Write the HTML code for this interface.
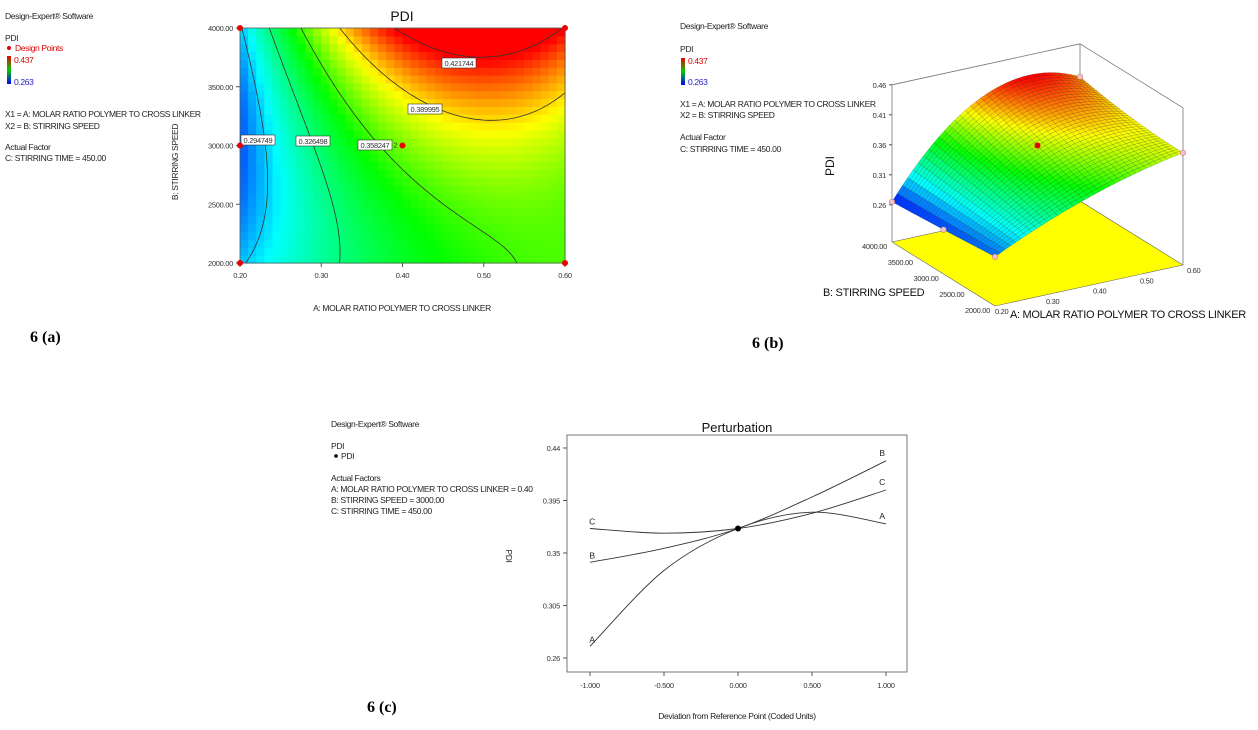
<!DOCTYPE html>
<html><head><meta charset="utf-8">
<style>
html,body{margin:0;padding:0;background:#fff;}
svg{display:block;font-family:"Liberation Sans",Arial,sans-serif;}
.s{font-size:8.5px;fill:#222;letter-spacing:-0.35px;}
.t{font-size:7.5px;fill:#333;letter-spacing:-0.3px;}
.cap{font-family:"Liberation Serif",serif;font-weight:bold;font-size:16px;fill:#000;}
</style></head>
<body>
<svg id="root" width="1258" height="730" viewBox="0 0 1258 730">
<g>
<text class="s" x="5" y="19">Design-Expert® Software</text>
<text class="s" x="5" y="41">PDI</text>
<circle cx="9" cy="48" r="2" fill="#d00"/>
<text class="s" x="15" y="51" style="fill:#d00">Design Points</text>
<defs><linearGradient id="cb" x1="0" y1="0" x2="0" y2="1"><stop offset="0" stop-color="#e00"/><stop offset="0.5" stop-color="#0c0"/><stop offset="1" stop-color="#00f"/></linearGradient></defs>
<rect x="7" y="56" width="4" height="28" fill="url(#cb)"/>
<text class="s" x="14" y="63" style="fill:#d00">0.437</text>
<text class="s" x="14" y="85" style="fill:#22c">0.263</text>
<text class="s" x="5" y="117">X1 = A: MOLAR RATIO POLYMER TO CROSS LINKER</text>
<text class="s" x="5" y="129">X2 = B: STIRRING SPEED</text>
<text class="s" x="5" y="150">Actual Factor</text>
<text class="s" x="5" y="161">C: STIRRING TIME = 450.00</text>
</g>
<text x="402" y="21" text-anchor="middle" font-size="14" fill="#111">PDI</text>
<g id="heat"></g>
<text class="s" x="402" y="311" text-anchor="middle">A: MOLAR RATIO POLYMER TO CROSS LINKER</text>
<text class="s" transform="translate(178,162) rotate(-90)" text-anchor="middle">B: STIRRING SPEED</text>
<text class="cap" x="30" y="342">6 (a)</text>

<g>
<text class="s" x="680" y="29">Design-Expert® Software</text>
<text class="s" x="680" y="52">PDI</text>
<rect x="681" y="58" width="4" height="27" fill="url(#cb)"/>
<text class="s" x="688" y="64" style="fill:#d00">0.437</text>
<text class="s" x="688" y="85" style="fill:#22c">0.263</text>
<text class="s" x="680" y="107">X1 = A: MOLAR RATIO POLYMER TO CROSS LINKER</text>
<text class="s" x="680" y="118">X2 = B: STIRRING SPEED</text>
<text class="s" x="680" y="140">Actual Factor</text>
<text class="s" x="680" y="152">C: STIRRING TIME = 450.00</text>
</g>
<g id="surf"></g>
<text transform="translate(834,166) rotate(-90)" text-anchor="middle" font-size="12" fill="#111">PDI</text>
<text x="823" y="296" font-size="11" letter-spacing="-0.3" fill="#111">B: STIRRING SPEED</text>
<text x="1010" y="318" font-size="11" letter-spacing="-0.3" fill="#111">A: MOLAR RATIO POLYMER TO CROSS LINKER</text>
<text class="cap" x="752" y="348">6 (b)</text>

<g>
<text class="s" x="331" y="427">Design-Expert® Software</text>
<text class="s" x="331" y="449">PDI</text>
<circle cx="336" cy="456" r="1.8" fill="#000"/>
<text class="s" x="341" y="459">PDI</text>
<text class="s" x="331" y="481">Actual Factors</text>
<text class="s" x="331" y="492">A: MOLAR RATIO POLYMER TO CROSS LINKER = 0.40</text>
<text class="s" x="331" y="503">B: STIRRING SPEED = 3000.00</text>
<text class="s" x="331" y="514">C: STIRRING TIME = 450.00</text>
</g>
<text x="737" y="432" text-anchor="middle" font-size="13" fill="#111">Perturbation</text>
<g id="pert"></g>
<text class="s" x="737" y="719" text-anchor="middle">Deviation from Reference Point (Coded Units)</text>
<text class="s" transform="translate(506,556) rotate(90)" text-anchor="middle">PDI</text>
<text class="cap" x="367" y="712">6 (c)</text>
</svg>
<script>
// ---------- data ----------
const modelCenter = [0.366];
const coefA = [0.049, -0.042];      // linear, quadratic (coded)
const coefB = [0.0415, 0.0175];
const coefAB = [0.015];
const coefAAB = [-0.0265];
const contourLevels = [0.294749, 0.326498, 0.358247, 0.389995, 0.421744];
const aTicks = ["0.20","0.30","0.40","0.50","0.60"];
const bTicks = ["2000.00","2500.00","3000.00","3500.00","4000.00"];
// 3D surface grid: rows B = 2000, 3000, 4000; columns A = 0.2, 0.4, 0.6
const surfRowB2000 = [0.280, 0.345, 0.385];
const surfRowB3000 = [0.272, 0.378, 0.390];
const surfRowB4000 = [0.265, 0.410, 0.405];
const zTicks = ["0.26","0.31","0.36","0.41","0.46"];
const zTickVals = [0.26,0.31,0.36,0.41,0.46];
// perturbation: values at deviation -1, -0.5, 0, 0.5, 1
const pertDev = [-1,-0.5,0,0.5,1];
const pertA = [0.270, 0.335, 0.371, 0.385, 0.375];
const pertB = [0.342, 0.354, 0.371, 0.398, 0.429];
const pertC = [0.371, 0.367, 0.371, 0.384, 0.404];
const pertYTicks = [0.26,0.305,0.35,0.395,0.44];
const pertYLabels = ["0.26","0.305","0.35","0.395","0.44"];
const pertXLabels = ["-1.000","-0.500","0.000","0.500","1.000"];

const NS="http://www.w3.org/2000/svg";
function mk(tag,attrs,parent){const e=document.createElementNS(NS,tag);for(const k in attrs)e.setAttribute(k,attrs[k]);parent.appendChild(e);return e;}
const rampT=[0,0.25,0.55,0.78,1], rampH=[240,180,120,60,0];
function ramp(v,hi){hi=hi||0.437;let t=(v-0.263)/(hi-0.263);t=Math.max(0,Math.min(1,t));
 let k=0;while(k<3&&t>rampT[k+1])k++;
 const h=rampH[k]+(rampH[k+1]-rampH[k])*(t-rampT[k])/(rampT[k+1]-rampT[k]);
 return `hsl(${h.toFixed(1)},100%,50%)`;}
function model(x,y){return modelCenter[0]+coefA[0]*x+coefA[1]*x*x+coefB[0]*y+coefB[1]*y*y+coefAB[0]*x*y+coefAAB[0]*x*x*y;}

// ---------- panel a ----------
(function(){
 const g=document.getElementById('heat');
 const L=240,R=565,T=28,B=263;
 const sx=x=>L+(x+1)/2*(R-L), sy=y=>B-(y+1)/2*(B-T);
 const NX=40,NY=30;
 for(let i=0;i<NX;i++)for(let j=0;j<NY;j++){
  const x=-1+(i+0.5)*2/NX,y=-1+(j+0.5)*2/NY;
  const r=mk('rect',{x:sx(-1+i*2/NX).toFixed(2),y:sy(-1+(j+1)*2/NY).toFixed(2),width:((R-L)/NX+0.6).toFixed(2),height:((B-T)/NY+0.6).toFixed(2),fill:ramp(model(x,y),0.42)},g);
  
  
 }
 const MX=80,MY=60;
 contourLevels.forEach(lv=>{
  let d='';
  for(let i=0;i<MX;i++)for(let j=0;j<MY;j++){
   const x0=-1+i*2/MX,x1=x0+2/MX,y0=-1+j*2/MY,y1=y0+2/MY;
   const c=[[x0,y0],[x1,y0],[x1,y1],[x0,y1]].map(p=>[p[0],p[1],model(p[0],p[1])-lv]);
   const pts=[];
   for(let k=0;k<4;k++){const a=c[k],b=c[(k+1)%4];if((a[2]<0)!==(b[2]<0)){const t=a[2]/(a[2]-b[2]);pts.push([a[0]+t*(b[0]-a[0]),a[1]+t*(b[1]-a[1])]);}}
   for(let k=0;k+1<pts.length;k+=2)d+=`M${sx(pts[k][0]).toFixed(1)},${sy(pts[k][1]).toFixed(1)}L${sx(pts[k+1][0]).toFixed(1)},${sy(pts[k+1][1]).toFixed(1)}`;
  }
  const p=mk('path',{d:d,stroke:'#333',"stroke-width":0.8,fill:'none'},g);
  
  
 });
 const labPos=[[258,141],[313,142],[375,146],[425,110],[459,64]];
 contourLevels.forEach((lv,k)=>{
  const t=String(lv);
  const r=mk('rect',{x:labPos[k][0]-17,y:labPos[k][1]-6,width:34,height:10,fill:'#fff',stroke:'#333',"stroke-width":0.6},g);
  
  
  const tx=mk('text',{x:labPos[k][0],y:labPos[k][1]+2,"text-anchor":'middle',class:'t'},g);tx.textContent=t;
  
  
 });
 const fr=mk('rect',{x:L,y:T,width:R-L,height:B-T,fill:'none',stroke:'#555',"stroke-width":0.8},g);
 
 
 aTicks.forEach((s,k)=>{const x=L+k*(R-L)/4;
  mk('line',{x1:x,y1:B,x2:x,y2:B+4,stroke:'#555'},g);
  const t=mk('text',{x:x,y:B+15,"text-anchor":'middle',class:'t'},g);t.textContent=s;
  
  });
 bTicks.forEach((s,k)=>{const y=B-k*(B-T)/4;
  mk('line',{x1:L-4,y1:y,x2:L,y2:y,stroke:'#555'},g);
  const t=mk('text',{x:L-7,y:y+3,"text-anchor":'end',class:'t'},g);t.textContent=s;
  
  });
 [[-1,1],[1,1],[-1,-1],[1,-1],[-1,0],[0,0]].forEach(p=>{
  const c=mk('circle',{cx:sx(p[0]),cy:sy(p[1]),r:3,fill:'#e00'},g);
  
  });
 const t2=mk('text',{x:sx(0)-9,y:sy(0)+2,class:'t',fill:'#070'},g);t2.textContent='2';
 
 
})();

// ---------- panel b ----------
(function(){
 const g=document.getElementById('surf');
 const P=(a,b,z)=>[995+a*188-b*103, 306-a*41-b*64-(z-0.198)*600];
 const rows=[surfRowB2000,surfRowB3000,surfRowB4000];
 const lag=(t,v)=>{const l0=2*(t-0.5)*(t-1),l1=-4*t*(t-1),l2=2*t*(t-0.5);return v[0]*l0+v[1]*l1+v[2]*l2;};
 const Z=(a,b)=>lag(b,[lag(a,rows[0]),lag(a,rows[1]),lag(a,rows[2])]);
 const pstr=pts=>pts.map(p=>p[0].toFixed(1)+','+p[1].toFixed(1)).join(' ');
 const zTop=0.46,zFl=0.198;
 const fl=mk('polygon',{points:pstr([P(0,0,zFl),P(1,0,zFl),P(1,1,zFl),P(0,1,zFl)]),fill:'#ffff00',stroke:'#666',"stroke-width":0.6},g);
 
 
 const fr=[[P(0,1,zFl),P(0,1,zTop)],[P(1,1,zFl),P(1,1,zTop)],[P(1,0,zFl),P(1,0,zTop)],[P(0,1,zTop),P(1,1,zTop)],[P(1,1,zTop),P(1,0,zTop)]];
 fr.forEach(s=>{const l=mk('line',{x1:s[0][0],y1:s[0][1],x2:s[1][0],y2:s[1][1],stroke:'#777',"stroke-width":0.8},g);
  
  });
 zTicks.forEach((s,k)=>{const p=P(0,1,zTickVals[k]);
  mk('line',{x1:p[0]-3,y1:p[1],x2:p[0],y2:p[1],stroke:'#555'},g);
  const t=mk('text',{x:p[0]-6,y:p[1]+3,"text-anchor":'end',class:'t'},g);t.textContent=s;
  
  });
 bTicks.forEach((s,k)=>{const p=P(0,k/4,zFl);
  const t=mk('text',{x:p[0]-5,y:p[1]+7,"text-anchor":'end',class:'t'},g);t.textContent=s;
  
  });
 aTicks.forEach((s,k)=>{const p=P(k/4,0,zFl);
  const t=mk('text',{x:p[0]+(k?4:0),y:p[1]+8,class:'t'},g);t.textContent=s;
  
  });
 const N=36,quads=[];
 for(let i=0;i<N;i++)for(let j=0;j<N;j++)quads.push([i,j]);
 quads.sort((q,r)=>(r[0]+r[1])-(q[0]+q[1]));
 quads.forEach(([i,j])=>{
  const a0=i/N,a1=(i+1)/N,b0=j/N,b1=(j+1)/N;
  const pts=[P(a0,b0,Z(a0,b0)),P(a1,b0,Z(a1,b0)),P(a1,b1,Z(a1,b1)),P(a0,b1,Z(a0,b1))];
  const q=mk('polygon',{points:pstr(pts),fill:ramp(Z((a0+a1)/2,(b0+b1)/2),0.425),stroke:'rgba(0,0,0,0.35)',"stroke-width":0.4},g);
  
  
 });
 [[0,1],[0,0],[1,0],[1,1],[0,0.5]].forEach(p=>{const c=P(p[0],p[1],Z(p[0],p[1]));
  const e=mk('circle',{cx:c[0],cy:c[1],r:2.8,fill:'#f6c0c0',stroke:'#a66',"stroke-width":0.5},g);
  
  });
 const cc=P(0.5,0.5,Z(0.5,0.5));
 const ce=mk('circle',{cx:cc[0],cy:cc[1],r:3,fill:'#e00'},g);
 
 
})();

// ---------- panel c ----------
(function(){
 const g=document.getElementById('pert');
 const X=d=>738+d*148, Y=v=>658-(v-0.26)*1166.7;
 const fr=mk('rect',{x:567,y:435,width:340,height:237,fill:'none',stroke:'#555',"stroke-width":0.8},g);
 
 
 pertYTicks.forEach((v,k)=>{const y=Y(v);
  mk('line',{x1:563,y1:y,x2:567,y2:y,stroke:'#555'},g);
  const t=mk('text',{x:560,y:y+3,"text-anchor":'end',class:'t'},g);t.textContent=pertYLabels[k];
  
  });
 pertDev.forEach((d,k)=>{const x=X(d);
  mk('line',{x1:x,y1:672,x2:x,y2:676,stroke:'#555'},g);
  const t=mk('text',{x:x,y:688,"text-anchor":'middle',class:'t'},g);t.textContent=pertXLabels[k];
  
  });
 function curve(vals){
  const p=pertDev.map((d,k)=>[X(d),Y(vals[k])]);
  let d=`M${p[0][0]},${p[0][1].toFixed(1)}`;
  for(let k=0;k<p.length-1;k++){
   const p0=p[Math.max(0,k-1)],p1=p[k],p2=p[k+1],p3=p[Math.min(p.length-1,k+2)];
   const c1=[p1[0]+(p2[0]-p0[0])/6,p1[1]+(p2[1]-p0[1])/6],c2=[p2[0]-(p3[0]-p1[0])/6,p2[1]-(p3[1]-p1[1])/6];
   d+=`C${c1[0].toFixed(1)},${c1[1].toFixed(1)} ${c2[0].toFixed(1)},${c2[1].toFixed(1)} ${p2[0]},${p2[1].toFixed(1)}`;
  }
  return d;
 }
 [["A",pertA],["B",pertB],["C",pertC]].forEach(([n,vals])=>{
  const p=mk('path',{d:curve(vals),fill:'none',stroke:'#333',"stroke-width":0.9},g);
  
  
  const l=mk('text',{x:X(-1)+2,y:Y(vals[0])-4,"text-anchor":'middle',class:'s'},g);l.textContent=n;
  
  
  const r=mk('text',{x:X(1)-4,y:Y(vals[4])-5,"text-anchor":'middle',class:'s'},g);r.textContent=n;
  
  
 });
 const c=mk('circle',{cx:X(0),cy:Y(pertA[2]),r:3,fill:'#000'},g);
 
 
})();
</script>
</body></html>
